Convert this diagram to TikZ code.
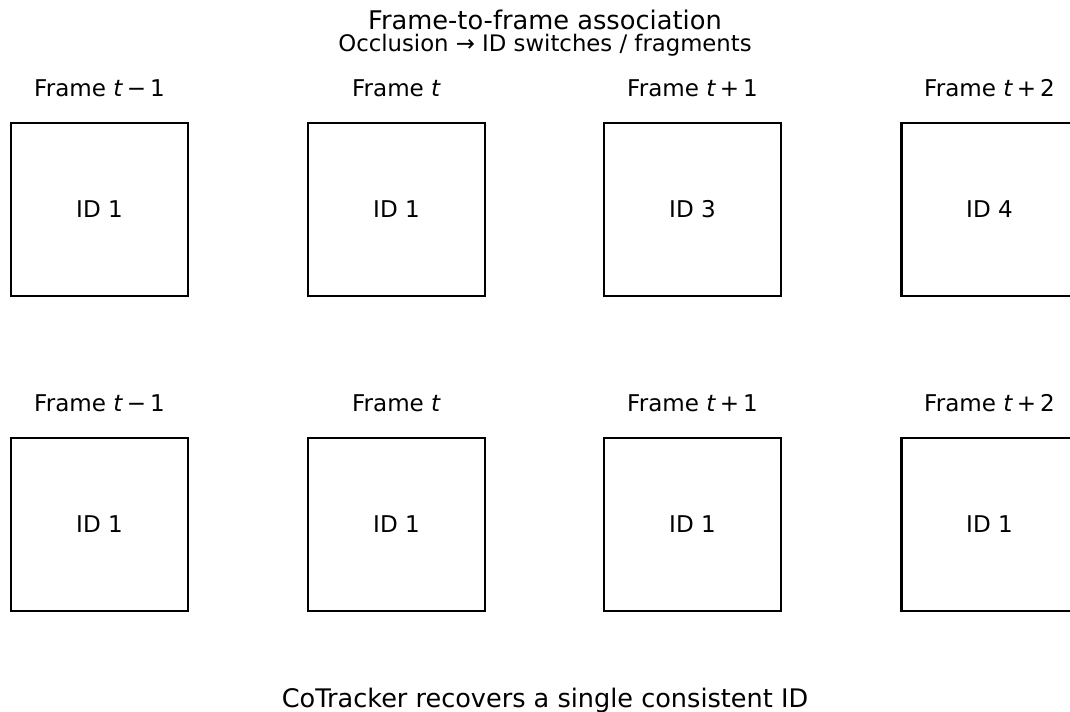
\documentclass[tikz,border=0pt]{standalone}
\usepackage{fontspec}
\setmainfont{DejaVu Sans}
\usetikzlibrary{positioning}

\tikzset{
  frame/.style={draw, line width=2.1pt, minimum width=127.4pt, minimum height=124.6pt, inner sep=0pt, font=\fontsize{16.6}{19}\selectfont},
  framelabel/.style={font=\fontsize{16.6}{19}\selectfont, inner sep=0pt},
}

\begin{document}
\begin{tikzpicture}[x=0.72pt, y=-0.72pt]
            \useasboundingbox (0,0) rectangle (1070,711);
            \clip (0,0) rectangle (1070,711);

            % Draw the titles
            \node[font=\fontsize{18.5}{21}\selectfont] (title) at (545,20) {Frame-to-frame association};
            \node[font=\fontsize{16.4}{19}\selectfont] (subtitle) at (545,45) {Occlusion → ID switches / fragments};

            % Draw the upper row of frames
            \node[frame] (a1) at (99.5,209.5) {ID 1};
            \node[frame] (a2) at (396.5,209.5) {ID 1};
            \node[frame] (a3) at (692.5,209.5) {ID 3};
            \node[frame] (a4) at (989.5,209.5) {ID 4};

            \node[framelabel] (la1) at (99.5,88) {Frame \textit{t}\,−\,1};
            \node[framelabel] (la2) at (396.5,88) {Frame \textit{t}};
            \node[framelabel] (la3) at (692.5,88) {Frame \textit{t}\,+\,1};
            \node[framelabel] (la4) at (989.5,88) {Frame \textit{t}\,+\,2};

            % Draw the lower row of frames
            \node[frame] (b1) at (99.5,524.5) {ID 1};
            \node[frame] (b2) at (396.5,524.5) {ID 1};
            \node[frame] (b3) at (692.5,524.5) {ID 1};
            \node[frame] (b4) at (989.5,524.5) {ID 1};

            \node[framelabel] (lb1) at (99.5,403) {Frame \textit{t}\,−\,1};
            \node[framelabel] (lb2) at (396.5,403) {Frame \textit{t}};
            \node[framelabel] (lb3) at (692.5,403) {Frame \textit{t}\,+\,1};
            \node[framelabel] (lb4) at (989.5,403) {Frame \textit{t}\,+\,2};

            % Draw the caption
            \node[font=\fontsize{18.4}{21}\selectfont] (caption) at (545,700) {CoTracker recovers a single consistent ID};
        \end{tikzpicture}
\end{document}
